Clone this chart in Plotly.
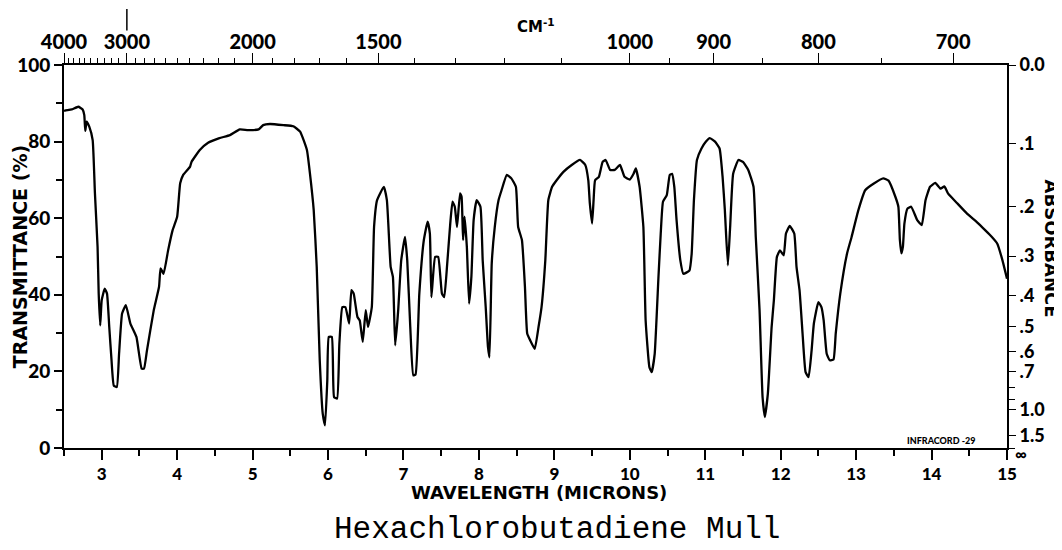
import plotly.graph_objects as go

# ---- data ----
wavelength_um = [
    2.50, 2.513, 2.602, 2.69, 2.747, 2.769, 2.782, 2.80, 2.835, 2.88, 2.91, 2.945, 2.96, 2.98,
    3.00, 3.04, 3.07, 3.10, 3.13, 3.16, 3.20, 3.23, 3.27, 3.32, 3.38, 3.46, 3.53, 3.56,
    3.60, 3.69, 3.76, 3.78, 3.82, 3.88, 3.94, 4.00, 4.04, 4.08, 4.17, 4.19, 4.30, 4.41,
    4.56, 4.70, 4.83, 4.94, 5.08, 5.14, 5.23, 5.41, 5.54, 5.63, 5.72, 5.76, 5.81, 5.85,
    5.89, 5.93, 5.96, 5.99, 6.01, 6.05, 6.08, 6.12, 6.15, 6.19, 6.23, 6.28, 6.31, 6.34,
    6.39, 6.42, 6.46, 6.50, 6.53, 6.58, 6.61, 6.65, 6.74, 6.78, 6.83, 6.86, 6.89, 6.93,
    6.97, 7.02, 7.05, 7.09, 7.13, 7.16, 7.21, 7.27, 7.32, 7.35, 7.37, 7.42, 7.46, 7.51,
    7.54, 7.58, 7.62, 7.65, 7.68, 7.71, 7.75, 7.77, 7.79, 7.81, 7.84, 7.87, 7.90, 7.93,
    7.97, 8.02, 8.05, 8.09, 8.12, 8.14, 8.17, 8.21, 8.26, 8.30, 8.37, 8.43, 8.49, 8.52,
    8.57, 8.61, 8.64, 8.68, 8.74, 8.79, 8.83, 8.88, 8.92, 8.97, 9.03, 9.12, 9.23, 9.34,
    9.41, 9.45, 9.47, 9.50, 9.52, 9.54, 9.59, 9.64, 9.68, 9.74, 9.80, 9.87, 9.93, 10.00,
    10.05, 10.08, 10.13, 10.18, 10.21, 10.26, 10.29, 10.33, 10.38, 10.41, 10.44, 10.49,
    10.53, 10.56, 10.59, 10.62, 10.67, 10.71, 10.79, 10.82, 10.85, 10.89, 10.95, 11.01,
    11.06, 11.13, 11.19, 11.23, 11.26, 11.30, 11.33, 11.37, 11.44, 11.50, 11.57, 11.64,
    11.67, 11.72, 11.76, 11.79, 11.83, 11.88, 11.91, 11.95, 11.99, 12.04, 12.07, 12.12,
    12.18, 12.21, 12.25, 12.29, 12.33, 12.37, 12.41, 12.44, 12.50, 12.54, 12.57, 12.61,
    12.65, 12.70, 12.73, 12.79, 12.88, 12.94, 13.03, 13.12, 13.23, 13.36, 13.43, 13.52,
    13.56, 13.58, 13.60, 13.62, 13.64, 13.68, 13.73, 13.81, 13.87, 13.92, 13.98, 14.05,
    14.12, 14.17, 14.22, 14.34, 14.47, 14.60, 14.71, 14.80, 14.87, 14.94, 15.00,
]
transmittance_pct = [
    88.0, 88.1, 88.4, 89.1, 88.4, 86.9, 82.8, 85.2, 83.9, 80.4, 66.5, 52.5, 40.3, 32.0,
    38.6, 41.6, 40.3, 31.6, 22.9, 16.3, 15.9, 24.6, 35.1, 37.3, 32.5, 29.0, 20.7, 20.7,
    25.5, 36.0, 42.1, 46.9, 45.5, 51.6, 56.9, 60.4, 69.1, 71.3, 73.4, 74.7, 77.8, 79.7,
    80.9, 81.7, 83.2, 83.0, 83.2, 84.3, 84.6, 84.3, 84.0, 82.6, 77.8, 71.7, 62.1, 47.3,
    22.9, 8.9, 5.9, 17.6, 29.0, 29.0, 13.3, 12.9, 27.2, 36.8, 36.8, 32.5, 41.2, 40.3,
    34.2, 33.3, 27.7, 36.0, 31.6, 36.8, 57.7, 64.7, 68.2, 64.7, 47.3, 44.7, 26.8, 36.0,
    49.0, 55.1, 49.0, 31.6, 19.0, 19.2, 40.3, 54.3, 59.1, 56.0, 39.4, 49.9, 49.9, 40.3,
    39.4, 48.2, 58.6, 64.3, 63.0, 57.7, 66.5, 65.6, 54.3, 60.4, 52.5, 37.7, 44.7, 59.5,
    64.7, 63.0, 49.0, 36.8, 26.4, 23.7, 48.2, 57.7, 64.7, 67.3, 71.3, 70.4, 68.2, 57.7,
    54.3, 42.1, 29.9, 28.1, 25.9, 31.6, 36.8, 49.0, 64.7, 68.2, 69.9, 72.1, 73.9, 75.2,
    73.9, 69.9, 63.9, 58.6, 64.7, 69.9, 70.8, 74.7, 75.2, 72.6, 72.6, 73.9, 70.8, 70.1,
    71.6, 73.0, 68.2, 57.7, 33.3, 21.1, 19.8, 24.6, 44.7, 56.0, 64.3, 66.0,
    71.3, 71.6, 68.2, 59.5, 49.0, 45.5, 46.3, 50.7, 64.7, 75.2, 78.2, 80.0,
    80.9, 80.0, 78.2, 70.8, 62.1, 47.7, 57.7, 71.6, 75.2, 74.7, 72.6, 68.2,
    55.1, 36.0, 13.3, 8.1, 14.2, 31.6, 38.6, 49.9, 51.6, 50.3, 56.0, 58.0,
    56.0, 47.3, 41.2, 29.9, 19.8, 18.5, 25.5, 32.5, 38.1, 36.8, 33.3, 24.6,
    22.9, 23.1, 29.9, 40.3, 50.8, 55.1, 62.1, 67.3, 69.0, 70.4, 69.8, 65.6,
    63.0, 54.3, 50.8, 52.5, 58.6, 62.5, 63.0, 59.5, 58.2, 64.7, 68.2, 69.2,
    67.7, 68.3, 66.4, 63.9, 61.2, 59.0, 56.9, 55.1, 53.4, 49.0, 44.2,
]

# axis tick definitions
micron_labels = list(range(3, 16))
wavenumber_labels = [4000, 3000, 2000, 1500, 1000, 900, 800, 700]
wavenumber_minor = [w for w in range(4000, 1000, -100)] + [w for w in range(1000, 649, -50)]
absorbance_labels = ["0.0", ".1", ".2", ".3", ".4", ".5", ".6", ".7", "1.0", "1.5"]
absorbance_values = [0.0, 0.1, 0.2, 0.3, 0.4, 0.5, 0.6, 0.7, 1.0, 1.5]
absorbance_minor = [0.8, 0.9]
title_text = "Hexachlorobutadiene Mull"

# ---- build figure ----
TICKF = "Lato"
TITLEF = "DejaVu Sans"
W_BOLD = 900
def T_of_A(a):
    return 100.0 * 10 ** (-a)

fig = go.Figure()
fig.add_trace(go.Scatter(
    x=wavelength_um, y=transmittance_pct, mode="lines",
    line=dict(color="black", width=2.3, shape="spline", smoothing=0.4),
    hoverinfo="skip", showlegend=False,
))
# invisible twin trace to activate the top (cm-1) and right (absorbance) axes
fig.add_trace(go.Scatter(
    x=wavelength_um, y=transmittance_pct, mode="lines", xaxis="x2", yaxis="y2",
    line=dict(color="rgba(0,0,0,0)", width=0), hoverinfo="skip", showlegend=False,
))

top_major = [10000.0 / w for w in wavenumber_labels]
top_minor = [10000.0 / w for w in wavenumber_minor if w not in wavenumber_labels]

# page body adds an 8px offset, so margins are shifted to compensate
fig.update_layout(
    width=1062, height=550,
    margin=dict(l=56, r=63, t=57, b=110, autoexpand=False),
    paper_bgcolor="white", plot_bgcolor="white",
    hovermode=False,
    xaxis=dict(
        range=[2.5, 15], showgrid=False, zeroline=False,
        showline=True, linecolor="black", linewidth=2,
        tickvals=micron_labels, ticktext=[str(v) for v in micron_labels],
        ticks="outside", ticklen=10, tickwidth=1.5, tickcolor="black",
        minor=dict(tickvals=[v + 0.5 for v in range(2, 15)], ticks="outside",
                   ticklen=6, tickwidth=1.5, tickcolor="black"),
        tickfont=dict(family=TICKF, size=17, color="black", weight=W_BOLD),
    ),
    xaxis2=dict(
        range=[2.5, 15], overlaying="x", side="top", showgrid=False, zeroline=False,
        showline=True, linecolor="black", linewidth=2,
        tickvals=top_major, ticktext=[str(w) for w in wavenumber_labels],
        ticks="outside", ticklen=10, tickwidth=1.3, tickcolor="black",
        ticklabelstandoff=-4,
        minor=dict(tickvals=top_minor, ticks="outside", ticklen=5,
                   tickwidth=1.2, tickcolor="black"),
        tickfont=dict(family=TICKF, size=20, color="black", weight=W_BOLD),
    ),
    yaxis=dict(
        range=[0, 100], showgrid=False, zeroline=False,
        showline=True, linecolor="black", linewidth=2,
        tickvals=[0, 20, 40, 60, 80, 100], ticks="outside", ticklen=8,
        tickwidth=1.5, tickcolor="black",
        minor=dict(tickvals=[10, 30, 50, 70, 90], ticks="outside", ticklen=6,
                   tickwidth=1.5, tickcolor="black"),
        tickfont=dict(family=TICKF, size=19, color="black", weight=W_BOLD),
    ),
    yaxis2=dict(
        range=[0, 100], overlaying="y", side="right", showgrid=False, zeroline=False,
        showline=True, linecolor="black", linewidth=2,
        tickvals=[T_of_A(a) for a in absorbance_values],
        ticktext=absorbance_labels,
        ticks="outside", ticklen=7, tickwidth=1.3, tickcolor="black",
        minor=dict(tickvals=[T_of_A(a) for a in absorbance_minor] + [0.0],
                   ticks="outside", ticklen=6, tickwidth=1.2, tickcolor="black"),
        tickfont=dict(family=TICKF, size=18, color="black", weight=W_BOLD),
    ),
)

annots = [
    dict(text="TRANSMITTANCE (%)", x=-0.047, y=0.5, xref="paper", yref="paper",
         textangle=-90, showarrow=False, xanchor="center", yanchor="middle",
         font=dict(family=TITLEF, size=19, color="black", weight="bold")),
    dict(text="ABSORBANCE", x=1.047, y=0.52, xref="paper", yref="paper",
         textangle=90, showarrow=False, xanchor="center", yanchor="middle",
         font=dict(family=TITLEF, size=18, color="black", weight="bold")),
    dict(text="WAVELENGTH (MICRONS)", x=0.504, y=-0.117, xref="paper", yref="paper",
         showarrow=False, xanchor="center", yanchor="middle",
         font=dict(family=TITLEF, size=18, color="black", weight="bold")),
    dict(text="CM<sup>-1</sup>", x=0.5, y=1.103, xref="paper", yref="paper",
         showarrow=False, xanchor="center", yanchor="middle",
         font=dict(family=TITLEF, size=15, color="black", weight="bold")),
    dict(text="INFRACORD -29", x=0.968, y=0.02, xref="paper", yref="paper",
         showarrow=False, xanchor="right", yanchor="middle",
         font=dict(family=TICKF, size=9, color="black", weight=W_BOLD)),
    dict(text="∞", x=1.006, y=-0.014, xref="paper", yref="paper",
         showarrow=False, xanchor="left", yanchor="middle",
         font=dict(family=TICKF, size=16, color="black", weight=W_BOLD)),
    dict(text=title_text, x=0.523, y=-0.213, xref="paper", yref="paper",
         showarrow=False, xanchor="center", yanchor="middle",
         font=dict(family="Liberation Mono", size=31, color="black")),
]
fig.update_layout(annotations=annots)

# tall marker line above the 3000 cm-1 label
fig.add_shape(type="line", xref="x", yref="paper",
              x0=10000.0 / 3000, x1=10000.0 / 3000, y0=1.09, y1=1.146,
              line=dict(color="black", width=1.5))

fig.write_html("out.html")
